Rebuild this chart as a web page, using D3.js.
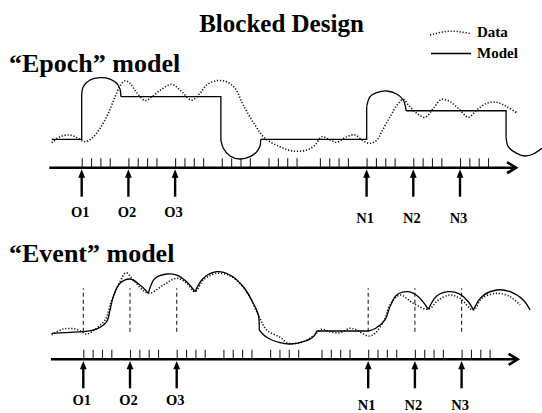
<!DOCTYPE html>
<html>
<head>
<meta charset="utf-8">
<script src="https://cdn.jsdelivr.net/npm/d3@7"></script>
<style>
  body { margin: 0; background: #fff; }
  svg text { font-family: "Times New Roman", "Liberation Serif", serif; font-weight: bold; fill: #000; }
</style>
</head>
<body>
<svg id="chart" width="542" height="413"></svg>
<script>
// event onsets (in scan units) and their labels
const eventTimes = [0, 5, 10, 30.5, 35.5, 40.5];
const eventLabels = ["O1", "O2", "O3", "N1", "N2", "N3"];
// scan tick groups, 4 scans each
const groupStarts = [0, 5, 10, 15, 20, 25.5, 30.5, 35.5, 40.5];
const scanOffsets = [0, 1, 2, 3];

// measured signal, epoch panel  [time, signal]
const epochData = [[-3.21,-8],[-2.32,6],[-1.25,10],[-0.36,2],[0.35,-5.6],[1.07,2],[1.96,25.8],[2.85,61],[3.57,100],[4.1,125],[4.64,137.6],[5.17,131.5],[5.88,110],[6.78,91],[7.4,98],[8.4,115],[9.64,129],[10.7,112],[11.78,92],[12.66,108],[13.38,127.5],[14.45,137.6],[15.52,135],[16.41,120],[17.3,80.5],[18.55,33.6],[19.62,2.3],[21.23,-17.4],[22.65,-27.5],[24.09,-25.1],[24.98,-13.4],[25.7,6.1],[26.59,-1.6],[27.3,-7],[28.37,6.1],[29.26,10.1],[30.15,-4],[30.87,-9.4],[31.6,-2],[32.12,17.8],[33.01,53],[33.9,84.5],[34.43,93.9],[34.97,80.5],[35.87,61],[36.76,51.6],[37.65,72.8],[38.54,93.9],[39.43,88.3],[40.5,68.8],[41.39,51.6],[42.29,68.8],[43.36,84.5],[44.43,86.9],[45.5,76.5],[46.57,62.4]];

// epoch model pieces
const epochRest0 = [[-3.2,0],[0,0],[0,104]];
const epochOnsetO = [[0,104],[0.17,123.5],[0.89,139.2],[1.96,144.6],[3.03,141.5],[3.75,131.5],[4.1,117.4],[4.2,100]];
const epochBlockO = [[4.2,100],[14.9,100],[14.9,-2]];
const epochOffsetO = [[14.9,-2],[15.16,-21.1],[15.88,-39.2],[16.95,-46.2],[18.02,-40.8],[18.74,-29.1],[19.09,-15.7],[19.16,0]];
const epochRest1 = [[19.16,0],[30.51,0],[30.51,76.5]];
const epochOnsetN = [[30.51,76.5],[30.87,100],[31.58,109.4],[32.65,113.4],[33.72,106.3],[34.43,92.3],[34.72,70],[34.75,67]];
const epochBlockN = [[34.75,67],[45.43,67],[45.43,6]];
const epochOffsetN = [[45.43,6],[45.67,-17.4],[46.57,-32.9],[47.46,-39.2],[48.35,-34.5],[49.25,-21.1]];

// measured signal, event panel
const eventData = [[-3.38,-7.7],[-2.14,6.3],[-0.71,5.6],[0.36,-5.4],[1.07,2.3],[2.32,27.5],[3.04,74.4],[3.93,117.4],[4.57,138.5],[5.35,121.4],[6.96,90.1],[8.57,109.6],[10.0,125.4],[11.07,113.6],[11.96,93.9],[12.85,121.4],[14.28,137.1],[15.89,129.1],[17.49,93.9],[18.74,39.2],[19.63,4],[21.06,-13.1],[21.95,-27.2],[23.55,-23.5],[24.63,-10.1],[25.52,5.6],[26.41,0],[27.48,-2.3],[28.55,8],[29.27,4],[30.51,-10.1],[31.23,-3.8],[32.29,31.5],[32.83,62.7],[33.9,86.2],[35.33,66.7],[36.94,52.6],[38.01,74.4],[39.26,86.2],[40.33,78.4],[41.76,51],[42.66,78.4],[44.26,90.1],[45.69,82.2],[46.76,62.7]];

// event model pieces (sum of responses, cusps between them)
const eventRest0 = [[-3.4,-4],[0,0]];
const eventRiseO = [[0,0],[1.4,6],[2.5,23.5],[2.86,51],[3.21,82],[3.93,113.6],[5.0,123.7],[6.07,109.6],[6.96,90.1]];
const eventArcO2 = [[6.96,90.1],[7.68,125.4],[8.93,135.4],[10.0,133],[11.07,117.4],[11.96,93.9]];
const eventArcO3 = [[11.96,93.9],[12.85,125.4],[14.28,140.8],[15.7,133.1],[17.13,105.6],[18.2,66.7],[18.74,39.2],[18.84,4]];
const eventUnder = [[18.84,4],[19.63,-13.1],[21.06,-25.8],[22.13,-28.9],[23.55,-23.5],[24.63,-11.7],[24.99,1.6]];
const eventRest1 = [[24.99,1.6],[30.5,1.6]];
const eventRiseN = [[30.5,1.6],[31.3,8],[32.3,27.5],[32.83,58.7],[33.55,86.2],[34.8,93.9],[35.87,82.2],[36.94,52.6]];
const eventArcN2 = [[36.94,52.6],[37.84,83.8],[39.08,93.9],[40.15,90.1],[41.22,70.4],[41.76,51]];
const eventArcN3 = [[41.76,51],[42.66,82.2],[44.26,97.9],[45.69,93.9],[47.1,74.4],[47.83,51]];

const svg = d3.select("#chart");

const serif = d3.curveCatmullRom.alpha(0.5);
const ticks = groupStarts.flatMap(g => scanOffsets.map(o => g + o));

function panel(opt) {
  const x = d3.scaleLinear().domain([0, 40.5]).range([opt.x0, opt.x0 + 378.3]);
  const y = d3.scaleLinear().domain([0, 100]).range([opt.base, opt.base - 42.6]);
  const g = svg.append("g");

  const lineL = d3.line().x(d => x(d[0])).y(d => y(d[1]));
  const lineS = d3.line().x(d => x(d[0])).y(d => y(d[1])).curve(serif);

  // dashed event markers (event model only)
  if (opt.markers) {
    g.selectAll(".mark").data(eventTimes).enter().append("line")
      .attr("x1", d => x(d)).attr("x2", d => x(d))
      .attr("y1", y(0)).attr("y2", y(102))
      .attr("stroke", "#222").attr("stroke-width", 1.1)
      .attr("stroke-dasharray", "4,3");
  }

  // data (dotted)
  g.append("path").datum(opt.data)
    .attr("d", lineS)
    .attr("fill", "none").attr("stroke", "#111")
    .attr("stroke-width", 1.6).attr("stroke-dasharray", "1.2,1.8");

  // model (solid)
  opt.model.forEach(p => {
    g.append("path").datum(p.pts)
      .attr("d", p.smooth ? lineS : lineL)
      .attr("fill", "none").attr("stroke", "#000")
      .attr("stroke-width", 1.3);
  });

  // scan ticks
  g.append("g")
    .attr("transform", "translate(0," + opt.axisY + ")")
    .call(d3.axisTop(x).tickValues(ticks).tickSize(9.5).tickFormat(""))
    .call(a => a.select(".domain").remove())
    .call(a => a.selectAll("line").attr("stroke", "#222").attr("stroke-width", 1.1));

  // time axis with arrow
  const xStart = x(-3.47), xEnd = x(46.5);
  g.append("line")
    .attr("x1", xStart).attr("x2", xEnd - 1)
    .attr("y1", opt.axisY).attr("y2", opt.axisY)
    .attr("stroke", "#000").attr("stroke-width", 2.6);
  g.append("path")
    .attr("d", "M" + (xEnd - 9) + "," + (opt.axisY - 5.5) + "L" + xEnd + "," + opt.axisY + "L" + (xEnd - 9) + "," + (opt.axisY + 5.5))
    .attr("fill", "none").attr("stroke", "#000").attr("stroke-width", 2.6);

  // onset arrows
  const ev = g.selectAll(".ev").data(eventTimes).enter().append("g");
  ev.append("line")
    .attr("x1", d => x(d)).attr("x2", d => x(d))
    .attr("y1", opt.axisY + 8).attr("y2", opt.axisY + opt.arrowLen)
    .attr("stroke", "#000").attr("stroke-width", 2.4);
  ev.append("path")
    .attr("d", d => "M" + x(d) + "," + (opt.axisY + 1.6) + "L" + (x(d) + 3.4) + "," + (opt.axisY + 10) + "L" + (x(d) - 3.4) + "," + (opt.axisY + 10) + "Z")
    .attr("fill", "#000");
  ev.append("text")
    .attr("x", d => x(d) - 1.5)
    .attr("y", (d, i) => eventLabels[i][0] === "O" ? opt.labelO : opt.labelN)
    .attr("text-anchor", "middle")
    .style("font-size", "14.5px")
    .text((d, i) => eventLabels[i]);
}

const piece = (pts, smooth) => ({ pts, smooth });

panel({
  x0: 81.7, base: 139.3, axisY: 167.7, arrowLen: 29, labelO: 216.5, labelN: 223,
  data: epochData, markers: false,
  model: [piece(epochRest0, false), piece(epochOnsetO, true), piece(epochBlockO, false), piece(epochOffsetO, true),
          piece(epochRest1, false), piece(epochOnsetN, true), piece(epochBlockN, false), piece(epochOffsetN, true)]
});

panel({
  x0: 83.3, base: 331.7, axisY: 359.3, arrowLen: 29, labelO: 405, labelN: 410,
  data: eventData, markers: true,
  model: [piece(eventRest0, false), piece(eventRiseO, true), piece(eventArcO2, true), piece(eventArcO3, true),
          piece(eventUnder, true), piece(eventRest1, false), piece(eventRiseN, true), piece(eventArcN2, true), piece(eventArcN3, true)]
});

// titles
svg.append("text").attr("x", 281.5).attr("y", 32).attr("text-anchor", "middle")
  .style("font-size", "25px").text("Blocked Design");
svg.append("text").attr("x", 9).attr("y", 72).style("font-size", "26px").text("\u201CEpoch\u201D model");
svg.append("text").attr("x", 9).attr("y", 262).style("font-size", "26px").text("\u201CEvent\u201D model");

// legend
const leg = svg.append("g");
leg.append("path")
  .attr("d", d3.line().curve(d3.curveNatural)([[430, 35], [450, 31.3], [471, 33.6]]))
  .attr("fill", "none").attr("stroke", "#111")
  .attr("stroke-width", 1.5).attr("stroke-dasharray", "1.2,1.8");
leg.append("text").attr("x", 477).attr("y", 37).style("font-size", "15px").text("Data");
leg.append("line").attr("x1", 431).attr("x2", 471).attr("y1", 53.5).attr("y2", 53.5)
  .attr("stroke", "#000").attr("stroke-width", 1.3);
leg.append("text").attr("x", 477).attr("y", 58).style("font-size", "15px").text("Model");
</script>
</body>
</html>
